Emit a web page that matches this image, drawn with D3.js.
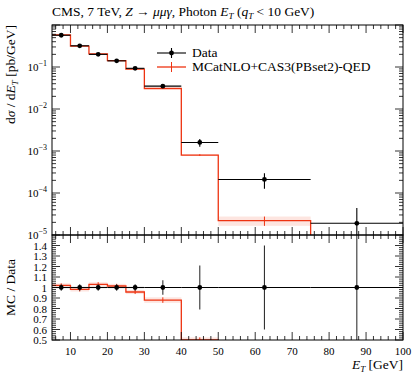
<!DOCTYPE html>
<html>
<head>
<meta charset="utf-8">
<script src="https://cdn.jsdelivr.net/npm/d3@7"></script>
<style>
  body { margin: 0; background: #fff; }
</style>
</head>
<body>
<div id="chart"></div>
<script>
// bin edges in GeV
var edges = [5, 10, 15, 20, 25, 30, 40, 50, 75, 100];
// CMS data, pb/GeV
var dataVals = [0.57, 0.32, 0.2, 0.14, 0.093, 0.035, 1.6e-3, 2.1e-4, 1.9e-5];
// relative data uncertainty
var dataRelErr = [0.03, 0.03, 0.03, 0.03, 0.03, 0.07, 0.21, 0.4, 1.3];
// MCatNLO+CAS3 prediction
var mcVals = [0.581, 0.314, 0.206, 0.142, 0.089, 0.0308, 8.0e-4, 2.2e-5, 0];
var mcRelErr = [0.02, 0.02, 0.02, 0.02, 0.02, 0.03, 0.05, 0.25, 0];

var xTicks = [10, 20, 30, 40, 50, 60, 70, 80, 90, 100];
var ratioTicks = [0.5, 0.6, 0.7, 0.8, 0.9, 1, 1.1, 1.2, 1.3, 1.4];

var W = 417, H = 376;
var L = 52, R = 403, T = 25, MB = 235, RB = 340;
var red = "#EE3311";
var FONT = "'Liberation Serif', 'DejaVu Serif', serif";
var FS = 13.5;

var svg = d3.select("#chart").append("svg")
  .attr("width", W).attr("height", H)
  .attr("font-family", FONT);

var x = d3.scaleLinear().domain([5, 100]).range([L, R]);
var y = d3.scaleLog().domain([1e-5, 1]).range([MB, T]);
var yr = d3.scaleLinear().domain([0.5, 1.5]).range([RB, MB]);

svg.append("clipPath").attr("id", "cm")
  .append("rect").attr("x", L).attr("y", T).attr("width", R - L).attr("height", MB - T);
svg.append("clipPath").attr("id", "cr")
  .append("rect").attr("x", L).attr("y", MB).attr("width", R - L).attr("height", RB - MB);

var bins = dataVals.map(function(d, i) {
  return {
    lo: edges[i], hi: edges[i + 1], c: (edges[i] + edges[i + 1]) / 2,
    d: d, de: d * dataRelErr[i], mc: mcVals[i], me: mcVals[i] * mcRelErr[i],
    ratio: mcVals[i] / d, rde: dataRelErr[i], re: mcRelErr[i]
  };
});
var mcBins = bins.filter(function(b) { return b.mc > 0; });

function ySafe(v) { return v > 0 ? y(v) : MB + 50; }

// ---------- main panel ----------
var gm = svg.append("g").attr("clip-path", "url(#cm)");

// MC band
gm.selectAll("rect.band").data(mcBins)
  .enter().append("rect")
  .attr("x", function(b) { return x(b.lo); })
  .attr("width", function(b) { return x(b.hi) - x(b.lo); })
  .attr("y", function(b) { return y(b.mc + b.me); })
  .attr("height", function(b) { return y(b.mc - b.me) - y(b.mc + b.me); })
  .attr("fill", red).attr("opacity", 0.13);

// MC step line
var stepPts = [];
bins.forEach(function(b) {
  stepPts.push([x(b.lo), ySafe(b.mc)]);
  stepPts.push([x(b.hi), ySafe(b.mc)]);
});
gm.append("path").attr("d", d3.line()(stepPts))
  .attr("fill", "none").attr("stroke", red).attr("stroke-width", 1.3);

gm.selectAll("line.mcerr").data(mcBins)
  .enter().append("line")
  .attr("x1", function(b) { return x(b.c); }).attr("x2", function(b) { return x(b.c); })
  .attr("y1", function(b) { return y(b.mc + b.me); })
  .attr("y2", function(b) { return y(b.mc - b.me); })
  .attr("stroke", red).attr("stroke-width", 1);

// data
var gd = gm.selectAll("g.dat").data(bins).enter().append("g");
gd.append("line")
  .attr("x1", function(b) { return x(b.lo); }).attr("x2", function(b) { return x(b.hi); })
  .attr("y1", function(b) { return y(b.d); }).attr("y2", function(b) { return y(b.d); })
  .attr("stroke", "#000").attr("stroke-width", 1.1);
gd.append("line")
  .attr("x1", function(b) { return x(b.c); }).attr("x2", function(b) { return x(b.c); })
  .attr("y1", function(b) { return y(b.d + b.de); })
  .attr("y2", function(b) { return ySafe(b.d - b.de); })
  .attr("stroke", "#000").attr("stroke-width", 1.1);
gd.append("circle")
  .attr("cx", function(b) { return x(b.c); }).attr("cy", function(b) { return y(b.d); })
  .attr("r", 2.4).attr("fill", "#000");

// ---------- ratio panel ----------
var gr = svg.append("g").attr("clip-path", "url(#cr)");
gr.selectAll("rect.rband").data(mcBins)
  .enter().append("rect")
  .attr("x", function(b) { return x(b.lo); })
  .attr("width", function(b) { return x(b.hi) - x(b.lo); })
  .attr("y", function(b) { return yr(b.ratio * (1 + b.re)); })
  .attr("height", function(b) { return yr(b.ratio * (1 - b.re)) - yr(b.ratio * (1 + b.re)); })
  .attr("fill", red).attr("opacity", 0.13);

var rPts = [];
bins.forEach(function(b) {
  var v = b.mc > 0 ? yr(b.ratio) : RB + 50;
  rPts.push([x(b.lo), v]);
  rPts.push([x(b.hi), v]);
});
gr.append("path").attr("d", d3.line()(rPts))
  .attr("fill", "none").attr("stroke", red).attr("stroke-width", 1.3);
gr.selectAll("line.rmc").data(mcBins)
  .enter().append("line")
  .attr("x1", function(b) { return x(b.c); }).attr("x2", function(b) { return x(b.c); })
  .attr("y1", function(b) { return yr(b.ratio * (1 + b.re)); })
  .attr("y2", function(b) { return yr(b.ratio * (1 - b.re)); })
  .attr("stroke", red).attr("stroke-width", 1);

var grd = gr.selectAll("g.rd").data(bins).enter().append("g");
grd.append("line")
  .attr("x1", function(b) { return x(b.lo); }).attr("x2", function(b) { return x(b.hi); })
  .attr("y1", yr(1)).attr("y2", yr(1))
  .attr("stroke", "#000").attr("stroke-width", 1.1);
grd.append("line")
  .attr("x1", function(b) { return x(b.c); }).attr("x2", function(b) { return x(b.c); })
  .attr("y1", function(b) { return yr(1 + b.rde); })
  .attr("y2", function(b) { return yr(1 - b.rde); })
  .attr("stroke", "#333").attr("stroke-width", 1.1);
grd.append("circle")
  .attr("cx", function(b) { return x(b.c); }).attr("cy", yr(1))
  .attr("r", 2.4).attr("fill", "#000");

// ---------- frames and ticks ----------
var tickCol = "#000";
function frame(top, bot) {
  svg.append("rect").attr("x", L).attr("y", top).attr("width", R - L).attr("height", bot - top)
    .attr("fill", "none").attr("stroke", "#000").attr("stroke-width", 1);
}
frame(T, MB);
frame(MB, RB);

// x ticks: major every 10, minor every 2, top and bottom of both panels
var xMinor = d3.range(6, 100, 2).filter(function(v) { return v % 10 !== 0; });
[[T, 1], [MB, -1], [MB, 1], [RB, -1]].forEach(function(p) {
  var yy = p[0], dir = p[1];
  svg.append("g").selectAll("line").data(xTicks).enter().append("line")
    .attr("x1", function(v) { return x(v); }).attr("x2", function(v) { return x(v); })
    .attr("y1", yy).attr("y2", yy + dir * 8)
    .attr("stroke", tickCol).attr("stroke-width", 0.8);
  svg.append("g").selectAll("line").data(xMinor).enter().append("line")
    .attr("x1", function(v) { return x(v); }).attr("x2", function(v) { return x(v); })
    .attr("y1", yy).attr("y2", yy + dir * 4)
    .attr("stroke", tickCol).attr("stroke-width", 0.8);
});

// main log y ticks
var yMajor = [1e-5, 1e-4, 1e-3, 1e-2, 1e-1, 1];
var yMinor = [];
yMajor.slice(0, -1).forEach(function(m) {
  for (var k = 2; k <= 9; k++) yMinor.push(m * k);
});
[[L, 1], [R, -1]].forEach(function(p) {
  var xx = p[0], dir = p[1];
  svg.append("g").selectAll("line").data(yMajor).enter().append("line")
    .attr("x1", xx).attr("x2", xx + dir * 8)
    .attr("y1", function(v) { return y(v); }).attr("y2", function(v) { return y(v); })
    .attr("stroke", tickCol).attr("stroke-width", 0.8);
  svg.append("g").selectAll("line").data(yMinor).enter().append("line")
    .attr("x1", xx).attr("x2", xx + dir * 4)
    .attr("y1", function(v) { return y(v); }).attr("y2", function(v) { return y(v); })
    .attr("stroke", tickCol).attr("stroke-width", 0.8);
});
var yl = svg.append("g").selectAll("text").data(yMajor.slice(0, -1)).enter().append("text")
  .attr("x", L - 5).attr("y", function(v) { return y(v) + 4; })
  .attr("text-anchor", "end").attr("font-size", 11);
yl.append("tspan").text("10");
yl.append("tspan").attr("dy", -5).attr("font-size", 8)
  .text(function(v) { return "\u2212" + Math.round(-Math.log10(v)); });

// ratio y ticks
var rMinor = d3.range(0.52, 1.5, 0.02).filter(function(v) {
  return Math.abs(v * 10 - Math.round(v * 10)) > 0.01;
});
[[L, 1], [R, -1]].forEach(function(p) {
  var xx = p[0], dir = p[1];
  svg.append("g").selectAll("line").data(ratioTicks).enter().append("line")
    .attr("x1", xx).attr("x2", xx + dir * 8)
    .attr("y1", function(v) { return yr(v); }).attr("y2", function(v) { return yr(v); })
    .attr("stroke", tickCol).attr("stroke-width", 0.8);
  svg.append("g").selectAll("line").data(rMinor).enter().append("line")
    .attr("x1", xx).attr("x2", xx + dir * 4)
    .attr("y1", function(v) { return yr(v); }).attr("y2", function(v) { return yr(v); })
    .attr("stroke", tickCol).attr("stroke-width", 0.8);
});
svg.append("g").selectAll("text").data(ratioTicks).enter().append("text")
  .attr("x", L - 5).attr("y", function(v) { return yr(v) + 4; })
  .attr("text-anchor", "end").attr("font-size", 11)
  .text(function(v) { return v === 1 ? "1" : d3.format(".1f")(v); });

// x tick labels
svg.append("g").selectAll("text").data(xTicks).enter().append("text")
  .attr("x", function(v) { return x(v); }).attr("y", RB + 15)
  .attr("text-anchor", "middle").attr("font-size", 11)
  .text(function(v) { return v; });

// ---------- labels ----------
var title = svg.append("text").attr("x", L).attr("y", 16).attr("font-size", FS);
title.append("tspan").text("CMS, 7 TeV, ");
title.append("tspan").attr("font-style", "italic").text("Z");
title.append("tspan").text(" \u2192 ");
title.append("tspan").attr("font-style", "italic").text("\u03bc\u03bc\u03b3");
title.append("tspan").text(", Photon ");
title.append("tspan").attr("font-style", "italic").text("E");
title.append("tspan").attr("font-style", "italic").attr("font-size", 9).attr("dy", 3).text("T");
title.append("tspan").attr("dy", -3).text(" (");
title.append("tspan").attr("font-style", "italic").text("q");
title.append("tspan").attr("font-style", "italic").attr("font-size", 9).attr("dy", 3).text("T");
title.append("tspan").attr("dy", -3).text(" < 10 GeV)");

var xl = svg.append("text").attr("x", R).attr("y", 369).attr("text-anchor", "end").attr("font-size", FS);
xl.append("tspan").attr("font-style", "italic").text("E");
xl.append("tspan").attr("font-style", "italic").attr("font-size", 9).attr("dy", 3).text("T");
xl.append("tspan").attr("dy", -3).text(" [GeV]");

var ylab = svg.append("text").attr("transform", "translate(15," + T + ") rotate(-90)")
  .attr("text-anchor", "end").attr("font-size", FS);
ylab.append("tspan").text("d");
ylab.append("tspan").attr("font-style", "italic").text("\u03c3");
ylab.append("tspan").text(" / d");
ylab.append("tspan").attr("font-style", "italic").text("E");
ylab.append("tspan").attr("font-style", "italic").attr("font-size", 9).attr("dy", 3).text("T");
ylab.append("tspan").attr("dy", -3).text(" [pb/GeV]");

svg.append("text").attr("transform", "translate(15," + yr(1) + ") rotate(-90)")
  .attr("text-anchor", "middle").attr("font-size", FS).text("MC / Data");

// ---------- legend ----------
var lg = svg.append("g");
lg.append("line").attr("x1", 157).attr("x2", 186).attr("y1", 53).attr("y2", 53)
  .attr("stroke", "#000").attr("stroke-width", 1.1);
lg.append("line").attr("x1", 171.5).attr("x2", 171.5).attr("y1", 48).attr("y2", 58)
  .attr("stroke", "#000").attr("stroke-width", 1.1);
lg.append("circle").attr("cx", 171.5).attr("cy", 53).attr("r", 2.4).attr("fill", "#000");
lg.append("text").attr("x", 192).attr("y", 57).attr("font-size", FS).text("Data");
lg.append("line").attr("x1", 157).attr("x2", 186).attr("y1", 67).attr("y2", 67)
  .attr("stroke", red).attr("stroke-width", 1.3);
lg.append("line").attr("x1", 171.5).attr("x2", 171.5).attr("y1", 62).attr("y2", 72)
  .attr("stroke", red).attr("stroke-width", 1);
lg.append("text").attr("x", 192).attr("y", 71).attr("font-size", FS).text("MCatNLO+CAS3(PBset2)-QED");
</script>
</body>
</html>
